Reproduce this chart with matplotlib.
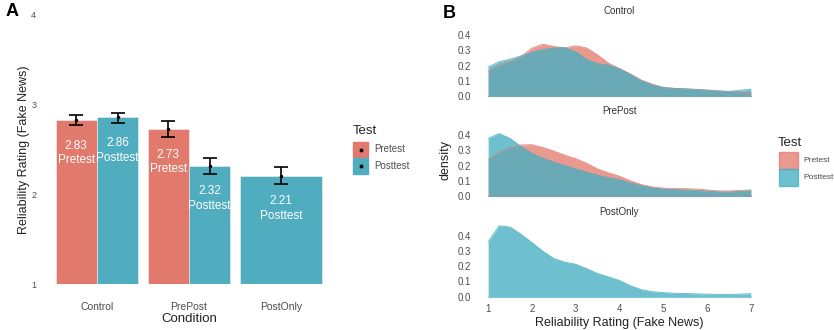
import numpy as np
import matplotlib.pyplot as plt
from matplotlib.patches import Rectangle

plt.rcParams['font.family'] = ['Liberation Sans', 'DejaVu Sans']

# Panel A data: mean reliability rating per condition / test
conditions = ['Control', 'PrePost', 'PostOnly']
bar_cond = ['Control', 'Control', 'PrePost', 'PrePost', 'PostOnly']
bar_test = ['Pretest', 'Posttest', 'Pretest', 'Posttest', 'Posttest']
bar_mean = [2.83, 2.86, 2.73, 2.32, 2.21]
err_low = [2.77, 2.80, 2.64, 2.23, 2.12]
err_high = [2.88, 2.91, 2.82, 2.41, 2.30]

# Panel B data: density of ratings
rating = [1.0, 1.25, 1.5, 1.75, 2.0, 2.25, 2.5, 2.75, 3.0, 3.25, 3.5, 3.75, 4.0,
          4.25, 4.5, 4.75, 5.0, 5.25, 5.5, 5.75, 6.0, 6.25, 6.5, 6.75, 7.0]
control_pre = [0.163, 0.20, 0.225, 0.258, 0.315, 0.34, 0.325, 0.315, 0.33, 0.315, 0.27, 0.215, 0.18,
               0.145, 0.105, 0.078, 0.058, 0.05, 0.047, 0.044, 0.04, 0.035, 0.03, 0.026, 0.022]
control_post = [0.19, 0.225, 0.242, 0.263, 0.288, 0.305, 0.315, 0.318, 0.29, 0.24, 0.212, 0.202, 0.18,
                0.14, 0.10, 0.072, 0.055, 0.05, 0.047, 0.043, 0.038, 0.032, 0.03, 0.038, 0.045]
prepost_pre = [0.236, 0.288, 0.318, 0.335, 0.337, 0.318, 0.295, 0.268, 0.245, 0.215, 0.178, 0.152, 0.13,
               0.10, 0.075, 0.06, 0.052, 0.049, 0.048, 0.046, 0.04, 0.034, 0.033, 0.037, 0.04]
prepost_post = [0.378, 0.41, 0.378, 0.325, 0.28, 0.248, 0.222, 0.20, 0.178, 0.158, 0.137, 0.12, 0.108,
                0.085, 0.068, 0.053, 0.046, 0.042, 0.039, 0.036, 0.032, 0.027, 0.026, 0.03, 0.035]
postonly_post = [0.36, 0.465, 0.457, 0.41, 0.355, 0.298, 0.25, 0.227, 0.213, 0.184, 0.152, 0.13, 0.106,
                 0.072, 0.046, 0.033, 0.027, 0.023, 0.021, 0.019, 0.017, 0.016, 0.015, 0.017, 0.02]

bar_colors = {'Pretest': '#E17A6D', 'Posttest': '#50ACBF'}
dens_colors = {'Pretest': '#E57C70', 'Posttest': '#45AFC2'}
txt_gray = '#4D4D4D'

W, H = 834, 330
fig = plt.figure(figsize=(W / 100, H / 100), dpi=100)

def fx(px):
    return px / W

def fy(py):
    return 1 - py / H

# ---------------- Panel A ----------------
axA = fig.add_axes([fx(41.8), fy(284), fx(294.4), fy(15) - fy(284)])
width = 0.45
pos = []
for c, t in zip(bar_cond, bar_test):
    ci = conditions.index(c)
    if c == 'PostOnly':
        pos.append(ci)
    else:
        pos.append(ci - width / 2 if t == 'Pretest' else ci + width / 2)

for i in range(len(bar_mean)):
    w = 0.9 if bar_cond[i] == 'PostOnly' else width
    axA.bar(pos[i], bar_mean[i] - 1, bottom=1, width=w, color=bar_colors[bar_test[i]],
            edgecolor='#F3F3F3', linewidth=0.4)
    axA.errorbar(pos[i], bar_mean[i],
                 yerr=[[bar_mean[i] - err_low[i]], [err_high[i] - bar_mean[i]]],
                 fmt='o', color='black', markersize=1.5, capsize=5, elinewidth=1.2, capthick=1.2)
    axA.text(pos[i], bar_mean[i] - 0.37, f"{bar_mean[i]:.2f}\n{bar_test[i]}", color='white',
             ha='center', va='center', fontsize=8.5, linespacing=1.3)

axA.set_xlim(-0.6, 2.6)
axA.set_ylim(1, 4)
axA.set_yticks([1, 2, 3, 4])
axA.set_xticks(range(3))
axA.set_xticklabels(conditions)
for s in axA.spines.values():
    s.set_visible(False)
axA.tick_params(axis='both', length=0, colors=txt_gray)
axA.tick_params(axis='x', labelsize=7.5, pad=13)
axA.tick_params(axis='y', labelsize=6.5, pad=4)
axA.set_xlabel('Condition', fontsize=9.5, color='#222222', labelpad=1)
axA.set_ylabel('Reliability Rating (Fake News)', fontsize=9, color='#222222', labelpad=1)

fig.text(fx(6), fy(12), 'A', fontsize=13, fontweight='bold', va='center')

# legend A
fig.text(fx(353), fy(131), 'Test', fontsize=9.5, color='#222222', va='center')
for k, t in enumerate(['Pretest', 'Posttest']):
    y0 = 142 + k * 16.5
    fig.patches.append(Rectangle((fx(353), fy(y0 + 15)), fx(15), fy(y0) - fy(y0 + 15),
                                 transform=fig.transFigure, color=bar_colors[t]))
    fig.lines.append(plt.Line2D([fx(360.5)], [fy(y0 + 7.5)], transform=fig.transFigure,
                                marker='o', markersize=1.8, color='black'))
    fig.text(fx(374), fy(y0 + 7.5), t, fontsize=7, color=txt_gray, va='center')

# ---------------- Panel B ----------------
facets = [
    ('Control', [('Pretest', control_pre), ('Posttest', control_post)], 99.6),
    ('PrePost', [('Pretest', prepost_pre), ('Posttest', prepost_post)], 199.6),
    ('PostOnly', [('Posttest', postonly_post)], 300.3),
]
x = np.array(rating)
axes_b = []
for name, series, bottom_px in facets:
    ax = fig.add_axes([fx(475), fy(bottom_px), fx(289), fy(bottom_px - 78.5) - fy(bottom_px)])
    for t, vals in series:
        ax.fill_between(x, 0, vals, color=dens_colors[t], alpha=0.78, linewidth=0)
        ax.plot(x, vals, color=dens_colors[t], alpha=0.9, linewidth=0.6)
        ax.plot([x[0], x[-1]], [0, 0], color=dens_colors[t], alpha=0.6, linewidth=0.8)
    ax.set_xlim(0.7, 7.3)
    ax.set_ylim(-0.0234, 0.4914)
    ax.set_yticks([0.0, 0.1, 0.2, 0.3, 0.4])
    ax.set_yticklabels(['0.0', '0.1', '0.2', '0.3', '0.4'])
    for s in ax.spines.values():
        s.set_visible(False)
    ax.tick_params(axis='both', length=0, colors=txt_gray, labelsize=7, pad=3)
    ax.set_title(name, fontsize=7, color='#333333', pad=5)
    if name != 'PostOnly':
        ax.set_xticks([])
    else:
        ax.set_xticks(range(1, 8))
    axes_b.append(ax)

axes_b[2].set_xlabel('Reliability Rating (Fake News)', fontsize=9, color='#222222', labelpad=2)
axes_b[1].set_ylabel('density', fontsize=9, color='#222222', labelpad=4)

fig.text(fx(443), fy(13), 'B', fontsize=13, fontweight='bold', va='center')

# legend B
fig.text(fx(778), fy(143), 'Test', fontsize=9.5, color='#222222', va='center')
for k, t in enumerate(['Pretest', 'Posttest']):
    y0 = 152 + k * 17
    fig.patches.append(Rectangle((fx(779), fy(y0 + 16.5)), fx(19), fy(y0) - fy(y0 + 16.5),
                                 transform=fig.transFigure, color=dens_colors[t], alpha=0.78))
    fig.text(fx(803), fy(y0 + 8.5), t, fontsize=6, color=txt_gray, va='center')

fig.savefig('out.png', dpi=100)
